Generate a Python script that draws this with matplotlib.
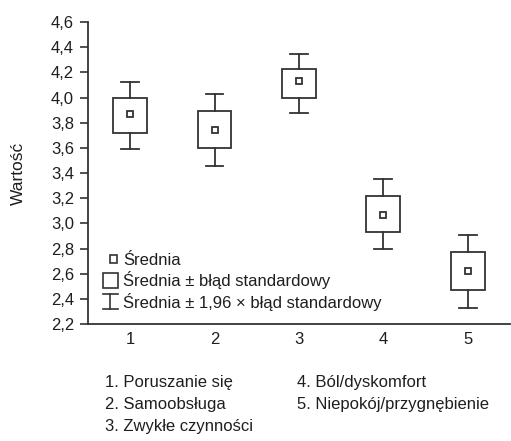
import matplotlib
matplotlib.use("Agg")
import matplotlib.pyplot as plt
from matplotlib.lines import Line2D
from matplotlib.patches import Rectangle
from matplotlib.legend_handler import HandlerBase
from matplotlib.ticker import FuncFormatter, MultipleLocator

plt.rcParams["font.family"] = ["Liberation Sans Narrow", "Liberation Sans", "DejaVu Sans"]

categories = [1, 2, 3, 4, 5]
means = [3.87, 3.74, 4.13, 3.07, 2.62]
se_low = [3.72, 3.60, 4.00, 2.93, 2.47]
se_high = [4.00, 3.89, 4.23, 3.22, 2.77]
ci_low = [3.59, 3.46, 3.88, 2.80, 2.33]
ci_high = [4.12, 4.03, 4.35, 3.35, 2.91]
names = ["1. Poruszanie się", "2. Samoobsługa", "3. Zwykłe czynności",
         "4. Ból/dyskomfort", "5. Niepokój/przygnębienie"]

col = "#333333"
txt = "#1e1e1e"
box_w = 0.4
cap_w = 0.21


class SymbolHandler(HandlerBase):
    # kind: "mean", "box" or "ci"
    def __init__(self, kind):
        super().__init__()
        self.kind = kind

    def create_artists(self, legend, orig_handle, xd, yd, width, height, fontsize, trans):
        cx = xd + width / 2
        cy = yd + height / 2
        arts = []
        if self.kind == "mean":
            s = 2.6
            arts.append(Rectangle((cx + 2.5 - s, cy - s), 2 * s, 2 * s, fill=False))
        elif self.kind == "box":
            s = 5.2
            arts.append(Rectangle((cx - s, cy - s), 2 * s, 2 * s, fill=False))
        else:
            w, h = 5.2, 5.2
            arts.append(Line2D([cx, cx], [cy - h, cy + h]))
            arts.append(Line2D([cx - w, cx + w], [cy + h, cy + h]))
            arts.append(Line2D([cx - w, cx + w], [cy - h, cy - h]))
        for a in arts:
            if isinstance(a, Rectangle):
                a.set_edgecolor(col)
            else:
                a.set_color(col)
            a.set_linewidth(1.2)
            a.set_transform(trans)
        return arts


fig = plt.figure(figsize=(5.11, 4.41), dpi=100)
ax = fig.add_axes([0.172, 0.265, 0.826, 0.685])

for x, m, sl, sh, cl, ch in zip(categories, means, se_low, se_high, ci_low, ci_high):
    ax.add_patch(Rectangle((x - box_w / 2, sl), box_w, sh - sl,
                           fill=False, edgecolor=col, linewidth=1.3, zorder=3))
    ax.plot([x, x], [sh, ch], color=col, lw=1.3)
    ax.plot([x, x], [cl, sl], color=col, lw=1.3)
    ax.plot([x - cap_w / 2, x + cap_w / 2], [ch, ch], color=col, lw=1.3)
    ax.plot([x - cap_w / 2, x + cap_w / 2], [cl, cl], color=col, lw=1.3)
    ax.plot([x], [m], marker="s", ms=5, mfc="white", mec=col, mew=1.3, zorder=4)

ax.set_xlim(0.5, 5.5)
ax.set_ylim(2.2, 4.6)
ax.yaxis.set_major_locator(MultipleLocator(0.2))
ax.yaxis.set_major_formatter(FuncFormatter(lambda v, p: f"{v:.1f}".replace(".", ",")))
ax.set_xticks(categories)
ax.tick_params(axis="x", length=0, pad=6, labelsize=12, labelcolor=txt)
ax.tick_params(axis="y", length=6, width=1.2, direction="out", labelsize=12,
               colors=col, labelcolor=txt, pad=4)
for s in ["top", "right"]:
    ax.spines[s].set_visible(False)
for s in ["left", "bottom"]:
    ax.spines[s].set_color(col)
    ax.spines[s].set_linewidth(1.3)

ax.set_ylabel("Wartość", fontsize=12.5, color=txt, labelpad=18)

h_mean, h_box, h_ci = object(), object(), object()
leg = ax.legend([h_mean, h_box, h_ci],
                ["Średnia", "Średnia ± błąd standardowy", "Średnia ± 1,96 × błąd standardowy"],
                handler_map={h_mean: SymbolHandler("mean"), h_box: SymbolHandler("box"),
                             h_ci: SymbolHandler("ci")},
                loc="lower left", bbox_to_anchor=(0.0355, 0.045), frameon=False,
                fontsize=12, handlelength=0.9, handletextpad=0.3, labelspacing=0.2,
                borderaxespad=0, borderpad=0)
for t in leg.get_texts():
    t.set_color(txt)

colx = [0.205, 0.582]
for i, n in enumerate(names):
    c = 0 if i < 3 else 1
    r = i if i < 3 else i - 3
    fig.text(colx[c], 1 - (383 + r * 22) / 441, n, fontsize=12, color=txt,
             va="center", ha="left")

fig.savefig("out.png", dpi=100)
